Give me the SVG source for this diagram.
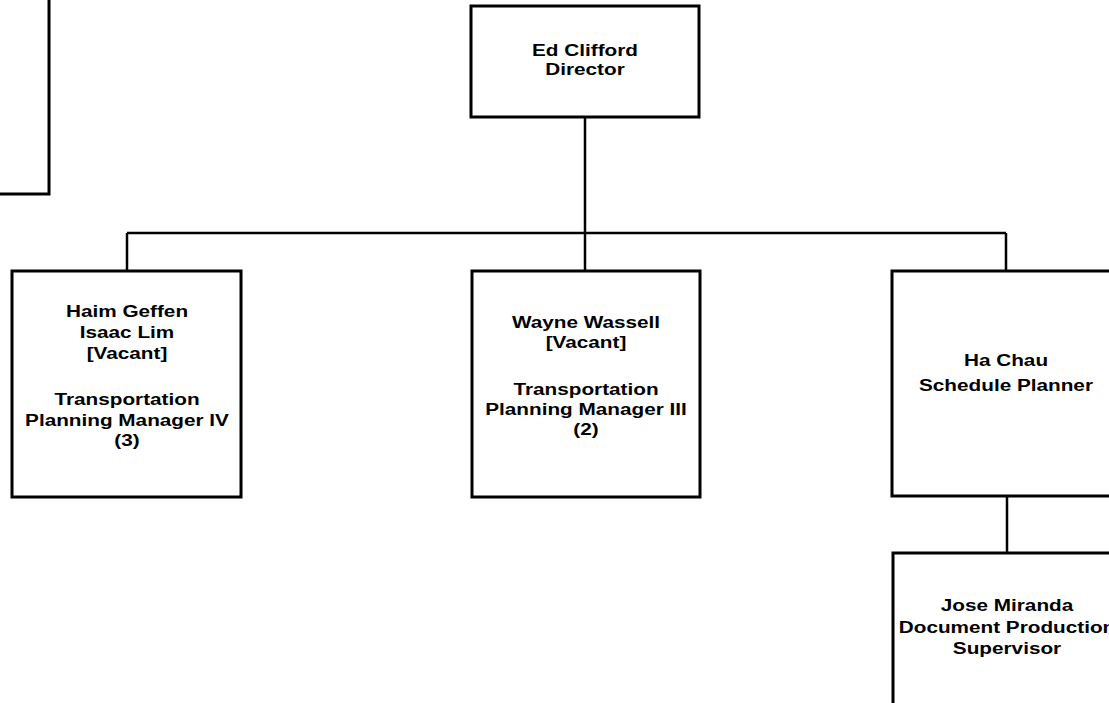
<svg xmlns="http://www.w3.org/2000/svg" width="1109" height="703" viewBox="0 0 1109 703">
<style>
.box{fill:#fff;stroke:#000;stroke-width:3}
.con{fill:none;stroke:#000;stroke-width:2.5}
.t{font-family:"Liberation Sans",Arial,Helvetica,sans-serif;font-weight:bold;font-size:17px;text-anchor:middle;fill:#000}
</style>
<rect width="1109" height="703" fill="#fff"/>
<g id="connectors">
<path class="con" d="M585 117 V271"/>
<path class="con" d="M127 233 H1006"/>
<path class="con" d="M127 233 V271"/>
<path class="con" d="M1006 233 V271"/>
<path class="con" d="M1007 496 V553"/>
<path class="con" d="M0 118 H7"/>
</g>
<g id="node-topleft">
<rect class="box" x="-200" y="-50" width="249" height="244"/>
</g>
<g id="node-director">
<rect class="box" x="471" y="6" width="228" height="111"/>
<g transform="translate(585 0) scale(1.22 1)">
<text class="t" x="0" y="56">Ed Clifford</text>
<text class="t" x="0" y="75">Director</text>
</g>
</g>
<g id="node-tpm4">
<rect class="box" x="12" y="271" width="229" height="226"/>
<g transform="translate(127 0) scale(1.22 1)">
<text class="t" x="0" y="317">Haim Geffen</text>
<text class="t" x="0" y="338">Isaac Lim</text>
<text class="t" x="0" y="359">[Vacant]</text>
<text class="t" x="0" y="405">Transportation</text>
<text class="t" x="0" y="426">Planning Manager IV</text>
<text class="t" x="0" y="446">(3)</text>
</g>
</g>
<g id="node-tpm3">
<rect class="box" x="472" y="271" width="228" height="226"/>
<g transform="translate(586 0) scale(1.22 1)">
<text class="t" x="0" y="328">Wayne Wassell</text>
<text class="t" x="0" y="348">[Vacant]</text>
<text class="t" x="0" y="395">Transportation</text>
<text class="t" x="0" y="415">Planning Manager III</text>
<text class="t" x="0" y="435">(2)</text>
</g>
</g>
<g id="node-hachau">
<rect class="box" x="892" y="271" width="230" height="225"/>
<g transform="translate(1006 0) scale(1.22 1)">
<text class="t" x="0" y="366">Ha Chau</text>
<text class="t" x="0" y="391">Schedule Planner</text>
</g>
</g>
<g id="node-jose">
<rect class="box" x="893" y="553" width="230" height="200"/>
<g transform="translate(1007 0) scale(1.22 1)">
<text class="t" x="0" y="611">Jose Miranda</text>
<text class="t" x="0" y="633">Document Production</text>
<text class="t" x="0" y="654">Supervisor</text>
</g>
</g>
</svg>
